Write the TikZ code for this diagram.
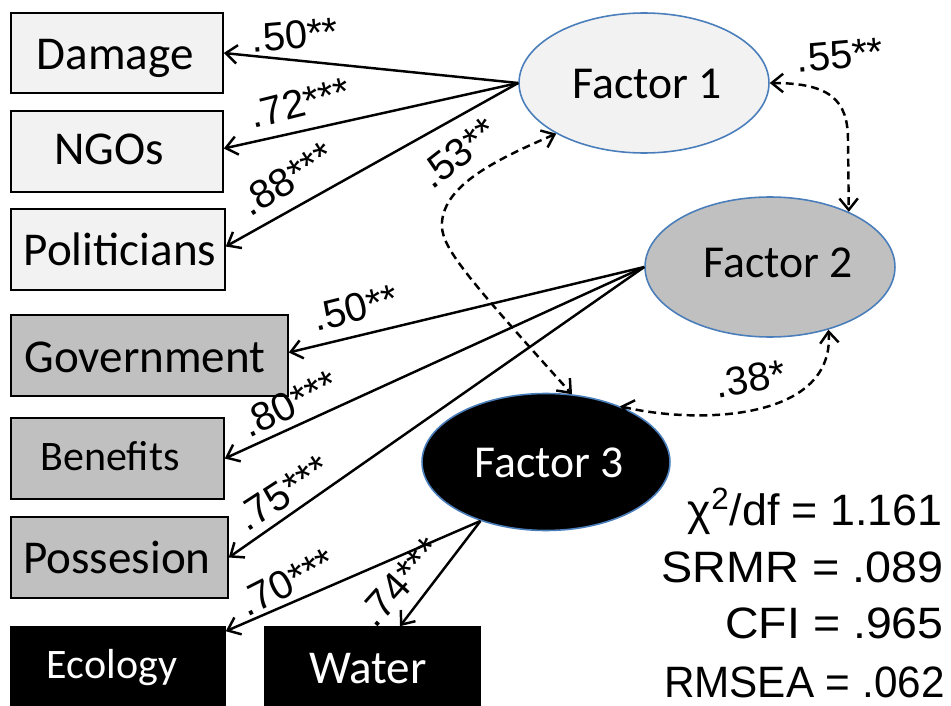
\documentclass[tikz,border=0pt]{standalone}
\usepackage{fontspec}
\setmainfont{Carlito}
\newfontfamily\arialf{Liberation Sans}
\usetikzlibrary{arrows.meta,shapes.geometric}
\definecolor{lgray}{HTML}{F2F2F2}
\definecolor{mgray}{HTML}{C0C0C0}
\definecolor{eborder}{HTML}{4A7EBB}
\begin{document}
\begin{tikzpicture}[x=0.02cm,y=-0.02cm,
  >={Straight Barb[length=6.5pt,width=10.5pt]},
  box/.style={draw=black,line width=0.9pt,inner sep=0,minimum height=1.62cm},
  lbox/.style={box,fill=lgray},
  gbox/.style={box,fill=mgray},
  bbox/.style={box,fill=black},
  fac/.style={ellipse,draw=eborder,line width=0.9pt,inner sep=0,minimum width=5.0cm,minimum height=2.8cm},
  btext/.style={anchor=base,inner sep=0,font=\fontsize{26.8pt}{30pt}\selectfont},
  stext/.style={anchor=base,inner sep=0,font=\fontsize{23.9pt}{27pt}\selectfont},
  ftext/.style={anchor=base,inner sep=0,font=\fontsize{26pt}{29pt}\selectfont},
  load/.style={line width=1.4pt,->},
  cov/.style={line width=1.4pt,dash pattern=on 4.5pt off 2.8pt,<->},
  lab/.style={inner sep=0,font=\arialf\fontsize{22.8pt}{26pt}\selectfont},
  fitstat/.style={anchor=base east,inner sep=0,font=\arialf\fontsize{25pt}{28pt}\selectfont}
]
\useasboundingbox (0,0) rectangle (951,706);

% indicator boxes
\node[lbox,minimum width=4.24cm,minimum height=1.6cm] (damage) at (117,53) {};
\node[lbox,minimum width=4.24cm] (ngos) at (117,151.5) {};
\node[lbox,minimum width=4.28cm] (pol) at (118,249.5) {};
\node[gbox,minimum width=5.54cm] (gov) at (149.5,355.5) {};
\node[gbox,minimum width=4.26cm] (ben) at (117.5,458.5) {};
\node[gbox,minimum width=4.34cm] (pos) at (119.5,557.5) {};
\node[bbox,minimum width=4.28cm,minimum height=1.8cm] (eco) at (118,672) {};
\node[bbox,minimum width=4.30cm,minimum height=1.8cm] (wat) at (372.5,672) {};

\node[btext] (tdamage) at (115,70) {Damage};
\node[btext] (tngos) at (109,165) {NGOs};
\node[btext] (tpol) at (120,265) {Politicians};
\node[btext] (tgov) at (145,372) {Government};
\node[stext] (tben) at (110,470) {Benefits};
\node[btext] (tpos) at (117,573) {Possesion};
\node[stext,text=white] (teco) at (112,678) {Ecology};
\node[btext,text=white] (twat) at (368,683) {Water};

% factors
\node[fac,fill=lgray] (f1) at (644,83) {};
\node[fac,fill=mgray] (f2) at (770,267) {};
\node[fac,fill=black,minimum width=4.96cm,minimum height=2.74cm] (f3) at (546,462) {};
\node[ftext] (tf1) at (647,99) {Factor 1};
\node[ftext] (tf2) at (778,277) {Factor 2};
\node[ftext,text=white] (tf3) at (549,477) {Factor 3};

% loadings
\draw[load] (f1.west) -- (damage.east);
\draw[load] (f1.west) -- ([yshift=0.06cm]ngos.east);
\draw[load] (f1.west) -- ([yshift=0.06cm]pol.east);
\draw[load] (f2.west) -- ([yshift=0.06cm]gov.east);
\draw[load] (f2.west) -- (ben.east);
\draw[load] (f2.west) -- (pos.east);
\draw[load] (f3.222) -- ([yshift=-0.1cm]eco.north east);
\draw[load] (f3.222) -- ([xshift=0.55cm]wat.north);

% covariances
\draw[cov] (f1.east) .. controls (830,83) and (848,100) .. (848,140) -- (f2.35);
\draw[cov] (f1.210) .. controls (495,160) and (445,185) .. (442,222) .. controls (440,245) and (460,270) .. (f3.69);
\draw[cov] (f3.37) .. controls (700,425) and (835,420) .. (f2.313);

% labels
\node[lab,rotate=5] (l1) at (295,35) {.50**};
\node[lab,rotate=14] (l2) at (300,103) {.72***};
\node[lab,rotate=32] (l3) at (287,179) {.88***};
\node[lab,rotate=38] (l4) at (458,153) {.53**};
\node[lab,rotate=5] (l5) at (840,55) {.55**};
\node[lab,rotate=14] (l6) at (355,308) {.50**};
\node[lab,rotate=26] (l7) at (289,404) {.80***};
\node[lab,rotate=33] (l8) at (283,493) {.75***};
\node[lab,rotate=27] (l9) at (287,582) {.70***};
\node[lab,rotate=48] (l10) at (400,582) {.74***};
\node[lab,rotate=10] (l11) at (750,379) {.38*};

% fit statistics
\node[fitstat,xscale=1.02] (s1) at (943,525) {χ\textsuperscript{2}/df = 1.161};
\node[fitstat,xscale=1.064] (s2) at (944,582) {SRMR = .089};
\node[fitstat,xscale=1.058] (s3) at (944,638) {CFI = .965};
\node[fitstat,xscale=0.962] (s4) at (945,697) {RMSEA = .062};
\end{tikzpicture}
\end{document}
